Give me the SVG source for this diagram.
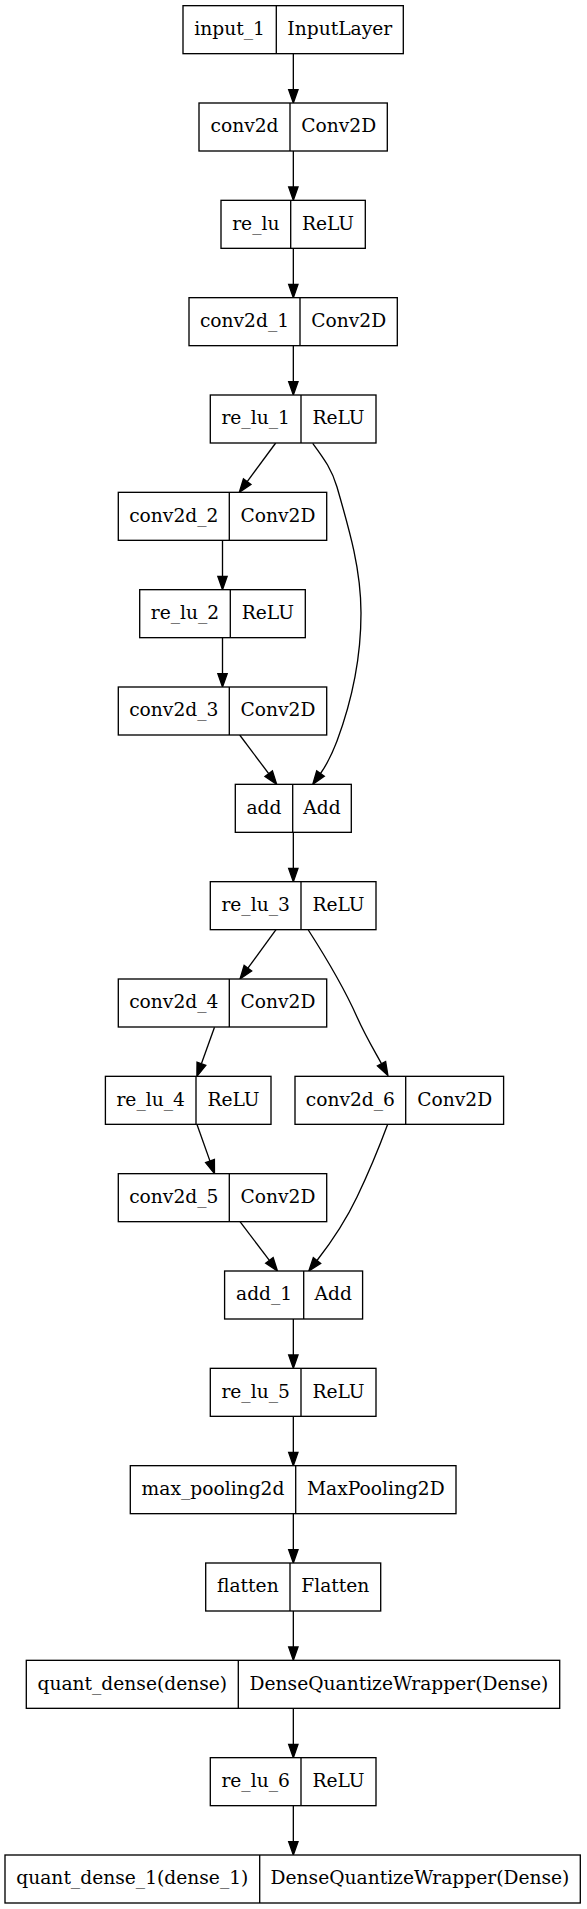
<svg xmlns="http://www.w3.org/2000/svg" width="587" height="1909" viewBox="0 0 587 1909">
<style>
.b{fill:#fff;stroke:#000;stroke-width:1.33}
.d{stroke:#000;stroke-width:1.33}
text{font-family:"DejaVu Serif","Liberation Serif",serif;font-size:18.67px;fill:#000;text-anchor:middle}
.e{fill:none;stroke:#000;stroke-width:1.33;marker-end:url(#ah)}
</style>
<defs>
<marker id="ah" markerUnits="userSpaceOnUse" markerWidth="16" markerHeight="12" refX="0" refY="4.67" orient="auto" overflow="visible">
<path d="M0,0 L13.33,4.67 L0,9.33 Z" fill="#000" stroke="#000" stroke-width="1.33"/>
</marker>
</defs>
<rect width="587" height="1909" fill="#fff"/>
<g id="connectors">
<path class="e" d="M293.33,53.67 L293.33,89.67"/>
<path class="e" d="M293.33,151 L293.33,187"/>
<path class="e" d="M293.33,248.33 L293.33,284.33"/>
<path class="e" d="M293.33,345.67 L293.33,381.67"/>
<path class="e" d="M275.7,443 L247.2,481.6"/>
<path class="e" d="M312.7,443.3 C325,460 332,470 337,487 C350,532 361,570 361,613 C361,660 350,706 337,741 C332,754 328,763 320.5,773.5"/>
<path class="e" d="M222.5,540.33 L222.5,576.33"/>
<path class="e" d="M222.5,637.67 L222.5,673.67"/>
<path class="e" d="M239.7,735 L268.7,773.67"/>
<path class="e" d="M293.33,832.33 L293.33,868.33"/>
<path class="e" d="M276,929.67 L247.9,968.2"/>
<path class="e" d="M308.3,930 C325,956 345,990 357,1017 C366,1037 374,1050 381.5,1063.7"/>
<path class="e" d="M214.5,1027.33 L201.4,1063.8"/>
<path class="e" d="M196.9,1124.33 L210,1161.1"/>
<path class="e" d="M240,1221.67 L269.4,1260.4"/>
<path class="e" d="M387.7,1124.3 C380,1145 370,1170 357,1197 C347,1218 333,1240 317,1260.5"/>
<path class="e" d="M293.33,1319 L293.33,1355"/>
<path class="e" d="M293.33,1416.33 L293.33,1452.33"/>
<path class="e" d="M293.33,1513.67 L293.33,1549.67"/>
<path class="e" d="M293.33,1611 L293.33,1647"/>
<path class="e" d="M293.33,1708.33 L293.33,1744.33"/>
<path class="e" d="M293.33,1805.67 L293.33,1841.67"/>
</g>
<g id="input_1"><rect class="b" x="183" y="5.67" width="220.3" height="48"/><line class="d" x1="276.3" y1="5.67" x2="276.3" y2="53.67"/><text x="229.65" y="35">input_1</text><text x="339.8" y="35">InputLayer</text></g>
<g id="conv2d"><rect class="b" x="199" y="103" width="188.3" height="48"/><line class="d" x1="290" y1="103" x2="290" y2="151"/><text x="244.5" y="132.3">conv2d</text><text x="338.65" y="132.3">Conv2D</text></g>
<g id="re_lu"><rect class="b" x="221" y="200.33" width="144.3" height="48"/><line class="d" x1="290.7" y1="200.33" x2="290.7" y2="248.33"/><text x="255.85" y="229.6">re_lu</text><text x="328" y="229.6">ReLU</text></g>
<g id="conv2d_1"><rect class="b" x="189" y="297.67" width="208.3" height="48"/><line class="d" x1="300" y1="297.67" x2="300" y2="345.67"/><text x="244.5" y="327">conv2d_1</text><text x="348.65" y="327">Conv2D</text></g>
<g id="re_lu_1"><rect class="b" x="210.3" y="395" width="165.7" height="48"/><line class="d" x1="301" y1="395" x2="301" y2="443"/><text x="255.65" y="424.3">re_lu_1</text><text x="338.5" y="424.3">ReLU</text></g>
<g id="conv2d_2"><rect class="b" x="118.3" y="492.33" width="208.4" height="48"/><line class="d" x1="229.3" y1="492.33" x2="229.3" y2="540.33"/><text x="173.8" y="521.6">conv2d_2</text><text x="278" y="521.6">Conv2D</text></g>
<g id="re_lu_2"><rect class="b" x="139.7" y="589.67" width="165.6" height="48"/><line class="d" x1="230.3" y1="589.67" x2="230.3" y2="637.67"/><text x="185" y="619">re_lu_2</text><text x="267.8" y="619">ReLU</text></g>
<g id="conv2d_3"><rect class="b" x="118.3" y="687" width="208.4" height="48"/><line class="d" x1="229.3" y1="687" x2="229.3" y2="735"/><text x="173.8" y="716.3">conv2d_3</text><text x="278" y="716.3">Conv2D</text></g>
<g id="add"><rect class="b" x="235.3" y="784.33" width="116" height="48"/><line class="d" x1="292.7" y1="784.33" x2="292.7" y2="832.33"/><text x="264" y="813.6">add</text><text x="322" y="813.6">Add</text></g>
<g id="re_lu_3"><rect class="b" x="210.3" y="881.67" width="165.7" height="48"/><line class="d" x1="301" y1="881.67" x2="301" y2="929.67"/><text x="255.65" y="911">re_lu_3</text><text x="338.5" y="911">ReLU</text></g>
<g id="conv2d_4"><rect class="b" x="118.3" y="979" width="208.4" height="48"/><line class="d" x1="229.3" y1="979" x2="229.3" y2="1027"/><text x="173.8" y="1008.3">conv2d_4</text><text x="278" y="1008.3">Conv2D</text></g>
<g id="re_lu_4"><rect class="b" x="105.4" y="1076.33" width="165.6" height="48"/><line class="d" x1="196" y1="1076.33" x2="196" y2="1124.33"/><text x="150.7" y="1105.6">re_lu_4</text><text x="233.5" y="1105.6">ReLU</text></g>
<g id="conv2d_6"><rect class="b" x="295" y="1076.33" width="208.6" height="48"/><line class="d" x1="405.7" y1="1076.33" x2="405.7" y2="1124.33"/><text x="350.35" y="1105.6">conv2d_6</text><text x="454.65" y="1105.6">Conv2D</text></g>
<g id="conv2d_5"><rect class="b" x="118.3" y="1173.67" width="208.4" height="48"/><line class="d" x1="229.3" y1="1173.67" x2="229.3" y2="1221.67"/><text x="173.8" y="1203">conv2d_5</text><text x="278" y="1203">Conv2D</text></g>
<g id="add_1"><rect class="b" x="224.6" y="1271" width="138" height="48"/><line class="d" x1="303.7" y1="1271" x2="303.7" y2="1319"/><text x="264.15" y="1300.3">add_1</text><text x="333.15" y="1300.3">Add</text></g>
<g id="re_lu_5"><rect class="b" x="210.3" y="1368.33" width="165.7" height="48"/><line class="d" x1="301" y1="1368.33" x2="301" y2="1416.33"/><text x="255.65" y="1397.6">re_lu_5</text><text x="338.5" y="1397.6">ReLU</text></g>
<g id="max_pooling2d"><rect class="b" x="130.3" y="1465.67" width="325.7" height="48"/><line class="d" x1="295.7" y1="1465.67" x2="295.7" y2="1513.67"/><text x="213" y="1495">max_pooling2d</text><text x="375.85" y="1495">MaxPooling2D</text></g>
<g id="flatten"><rect class="b" x="205.7" y="1563" width="175" height="48"/><line class="d" x1="290" y1="1563" x2="290" y2="1611"/><text x="247.85" y="1592.3">flatten</text><text x="335.35" y="1592.3">Flatten</text></g>
<g id="quant_dense"><rect class="b" x="26.3" y="1660.33" width="533.4" height="48"/><line class="d" x1="238.3" y1="1660.33" x2="238.3" y2="1708.33"/><text x="132.3" y="1689.6">quant_dense(dense)</text><text x="399" y="1689.6">DenseQuantizeWrapper(Dense)</text></g>
<g id="re_lu_6"><rect class="b" x="210.3" y="1757.67" width="165.7" height="48"/><line class="d" x1="301" y1="1757.67" x2="301" y2="1805.67"/><text x="255.65" y="1787">re_lu_6</text><text x="338.5" y="1787">ReLU</text></g>
<g id="quant_dense_1"><rect class="b" x="5" y="1855" width="575.3" height="48"/><line class="d" x1="259.7" y1="1855" x2="259.7" y2="1903"/><text x="132.35" y="1884.3">quant_dense_1(dense_1)</text><text x="420" y="1884.3">DenseQuantizeWrapper(Dense)</text></g>
</svg>
